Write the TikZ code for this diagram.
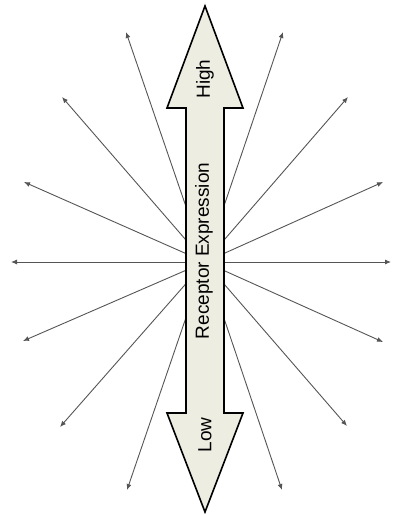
\documentclass[tikz,border=0pt]{standalone}
\usepackage{fontspec}
\setmainfont{Liberation Sans}
\usetikzlibrary{arrows.meta}
\definecolor{cream}{RGB}{238,237,226}
\definecolor{raygray}{RGB}{85,85,85}
\tikzset{
  ray/.style={draw=raygray, line width=0.9pt, -{Latex[length=6pt,width=5pt]}},
  bigarrow/.style={draw=black, line width=1.6pt, fill=cream, line join=miter},
  lbl/.style={rotate=90, font=\fontsize{19}{22}\selectfont, inner sep=0pt}
}
\begin{document}
\begin{tikzpicture}[x=1pt,y=-1pt]
\useasboundingbox (0,0) rectangle (392,515);
\coordinate (c) at (205,262);
% ray end points
\coordinate (r1) at (283,32);
\coordinate (r2) at (348,97);
\coordinate (r3) at (383,182);
\coordinate (r4) at (391,262);
\coordinate (r5) at (383,342);
\coordinate (r6) at (347,426);
\coordinate (r7) at (282,490);
\coordinate (l1) at (126,32);
\coordinate (l2) at (62,97);
\coordinate (l3) at (24,182);
\coordinate (l4) at (11,262);
\coordinate (l5) at (23,341);
\coordinate (l6) at (60,427);
\coordinate (l7) at (127,490);
\foreach \p in {r1,r2,r3,r4,r5,r6,r7,l1,l2,l3,l4,l5,l6,l7}
  \draw[ray] (c) -- (\p);
% double arrow
\draw[bigarrow] (205,6) -- (243,108) -- (224,108) -- (224,413) -- (243,413)
  -- (205,512) -- (167,413) -- (186,413) -- (186,108) -- (167,108) -- cycle;
\node[lbl] (high) at (205,79) {High};
\node[lbl] (low) at (205,435) {Low};
\node[lbl] (expr) at (204,251) {Receptor Expression};
\end{tikzpicture}
\end{document}
